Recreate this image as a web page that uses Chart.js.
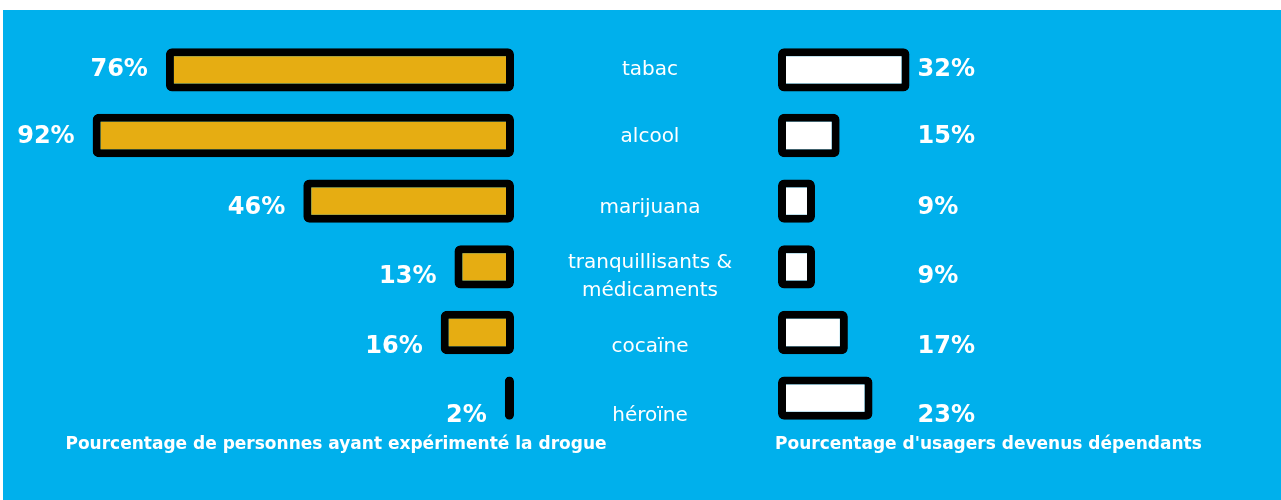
<!DOCTYPE html>
<html>
<head>
<meta charset="utf-8">
<script src="https://cdn.jsdelivr.net/npm/chart.js@4"></script>
<style>
    html, body { margin: 0; padding: 0; background: #fff; }
    #board { position: absolute; left: 3px; top: 10px; width: 1278px; height: 490px; background: #00b0ec; }
    #board canvas { position: absolute; left: 0; top: 0; }
</style>
</head>
<body>
<div id="board">
    <canvas id="triedChart" width="1278" height="490"></canvas>
    <canvas id="hookedChart" width="1278" height="490"></canvas>
</div>
<script>
"use strict";

// Дані графіка
const drugs = ['tabac', 'alcool', 'marijuana', ['tranquillisants &', 'médicaments'], 'cocaïne', 'héroïne'];
const triedPct = [76, 92, 46, 13, 16, 2];     // expérimenté la drogue
const hookedPct = [32, 15, 9, 9, 17, 23];     // devenus dépendants
const triedTitle = 'Pourcentage de personnes ayant expérimenté la drogue';
const hookedTitle = "Pourcentage d'usagers devenus dépendants";

// Стилі
const rowNudge = [0, 1, 7, 10, 14, 18];   // тексти рядків трохи зсунуті вниз
const valueFont = 'bold 24px "DejaVu Sans", sans-serif';
const catFont = '20px "DejaVu Sans", sans-serif';
const titleFont = 'bold 17px "DejaVu Sans", sans-serif';

function barOptions(values, fill) {
    return {
        data: values,
        backgroundColor: fill,
        borderColor: '#000',
        borderWidth: 8,
        borderRadius: 6,
        borderSkipped: false,
        barPercentage: 0.66,
        categoryPercentage: 1
    };
}

function baseOptions(padding, reverse) {
    return {
        indexAxis: 'y',
        responsive: false,
        animation: false,
        layout: { padding: padding },
        scales: {
            x: { type: 'linear', min: 0, max: 100, reverse: reverse, display: false },
            y: { display: false }
        },
        plugins: { legend: { display: false }, tooltip: { enabled: false } }
    };
}

const triedLabels = {
    id: 'triedLabels',
    afterDatasetsDraw(chart) {
        const ctx = chart.ctx;
        const area = chart.chartArea;
        ctx.save();
        ctx.fillStyle = '#fff';
        ctx.textBaseline = 'middle';
        ctx.font = valueFont;
        ctx.textAlign = 'right';
        chart.getDatasetMeta(0).data.forEach((bar, i) => {
            ctx.fillText(triedPct[i] + '%', bar.x - 18, bar.y + rowNudge[i]);
        });
        ctx.font = titleFont;
        ctx.textAlign = 'center';
        ctx.fillText(triedTitle, area.right - 178, area.bottom + 14);
        ctx.restore();
    }
};

const hookedLabels = {
    id: 'hookedLabels',
    afterDatasetsDraw(chart) {
        const ctx = chart.ctx;
        const area = chart.chartArea;
        const xScale = chart.scales.x;
        const colX = xScale.getPixelForValue(Math.max(...hookedPct)) + 8;
        ctx.save();
        ctx.fillStyle = '#fff';
        ctx.textBaseline = 'middle';

        ctx.font = valueFont;
        ctx.textAlign = 'left';
        chart.getDatasetMeta(0).data.forEach((bar, i) => {
            ctx.fillText(hookedPct[i] + '%', colX, bar.y + rowNudge[i]);
        });

        // назви речовин по центру між двома графіками
        ctx.font = catFont;
        ctx.textAlign = 'center';
        chart.getDatasetMeta(0).data.forEach((bar, i) => {
            const lines = [].concat(drugs[i]);
            const y0 = bar.y + rowNudge[i] - (lines.length - 1) * 14;
            lines.forEach((line, k) => ctx.fillText(line, area.left - 128, y0 + k * 28));
        });

        ctx.font = titleFont;
        ctx.textAlign = 'left';
        ctx.fillText(hookedTitle, area.left - 3, area.bottom + 14);
        ctx.restore();
    }
};

new Chart(document.getElementById('triedChart'), {
    type: 'bar',
    data: { labels: drugs, datasets: [barOptions(triedPct, '#e6ad12')] },
    options: baseOptions({ left: 53, right: 767, top: 27, bottom: 69 }, true),
    plugins: [triedLabels]
});

new Chart(document.getElementById('hookedChart'), {
    type: 'bar',
    data: { labels: drugs, datasets: [barOptions(hookedPct, '#ffffff')] },
    options: baseOptions({ left: 775, right: 92, top: 27, bottom: 69 }, false),
    plugins: [hookedLabels]
});
</script>
</body>
</html>
